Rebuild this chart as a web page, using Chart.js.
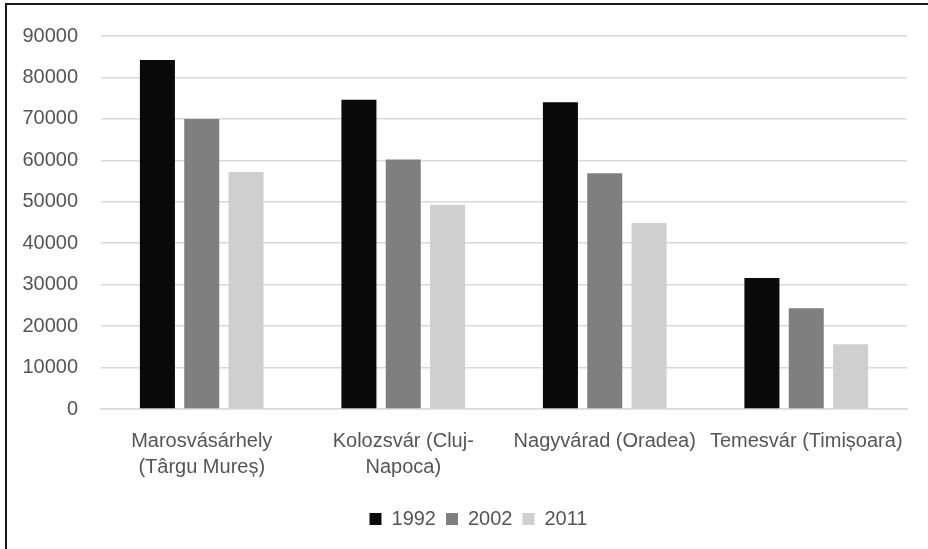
<!DOCTYPE html>
<html>
<head>
<meta charset="utf-8">
<script src="https://cdn.jsdelivr.net/npm/chart.js@4/dist/chart.umd.min.js"></script>
<style>
  html, body { margin: 0; padding: 0; background: #fff; }
  #wrap { position: relative; width: 928px; height: 549px; overflow: hidden; }
  #frame { position: absolute; left: 5px; top: 3px; width: 940px; height: 560px;
           border-top: 2px solid #1a1a1a; border-left: 2px solid #1a1a1a; pointer-events: none; }
  canvas { position: absolute; left: 0; top: 0; }
</style>
</head>
<body>
<div id="wrap">
  <canvas id="c" width="928" height="549"></canvas>
  <div id="frame"></div>
</div>
<script>
// Cities (Hungarian name with Romanian name in brackets), split over two lines where wrapped
const cities = [
  ["Marosvásárhely", "(Târgu Mureș)"],
  ["Kolozsvár (Cluj-", "Napoca)"],
  "Nagyvárad (Oradea)",
  "Temesvár (Timișoara)"
];
const years = ["1992", "2002", "2011"];
const pop1992 = [84200, 74600, 74000, 31600];
const pop2002 = [70000, 60200, 56900, 24300];
const pop2011 = [57200, 49300, 44900, 15600];
const yTicks = [0, 10000, 20000, 30000, 40000, 50000, 60000, 70000, 80000, 90000];

const barColors = ["#0a0a0a", "#7f7f7f", "#cfcfcf"];
const textColor = "#555555";
const font = { family: "'Liberation Sans', Arial, sans-serif", size: 20, lineHeight: 1.3 };

// nudge the legend to the right so it sits centred under the plot area
const legendShift = {
  id: "legendShift",
  afterLayout(chart) {
    const lg = chart.legend;
    if (lg) { lg.left += 25; lg.right += 25; }
  }
};

new Chart(document.getElementById("c"), {
  type: "bar",
  data: {
    labels: cities,
    datasets: [pop1992, pop2002, pop2011].map((vals, i) => ({
      label: years[i],
      data: vals,
      backgroundColor: barColors[i],
      borderWidth: 0,
      categoryPercentage: 0.66,
      barPercentage: 0.79
    }))
  },
  plugins: [legendShift],
  options: {
    responsive: false,
    animation: false,
    layout: { padding: { left: 0, right: 21, top: 28, bottom: 10 } },
    plugins: {
      tooltip: { enabled: false },
      legend: {
        position: "bottom",
        labels: {
          color: textColor,
          font: font,
          boxWidth: 12,
          boxHeight: 12,
          padding: 10
        }
      }
    },
    scales: {
      x: {
        grid: { display: false, drawTicks: false },
        border: { display: true, color: "#d9d9d9", width: 1.5 },
        ticks: { color: textColor, font: font, padding: 19, maxRotation: 0, autoSkip: false }
      },
      y: {
        min: 0,
        max: 90000,
        afterBuildTicks: (scale) => { scale.ticks = yTicks.map(v => ({ value: v })); },
        afterFit: (scale) => { scale.width = 101; },
        grid: { color: "#d9d9d9", lineWidth: 1.5, drawTicks: false },
        border: { display: false },
        ticks: { color: textColor, font: font, padding: 23, callback: (v) => String(v) }
      }
    }
  }
});
</script>
</body>
</html>
